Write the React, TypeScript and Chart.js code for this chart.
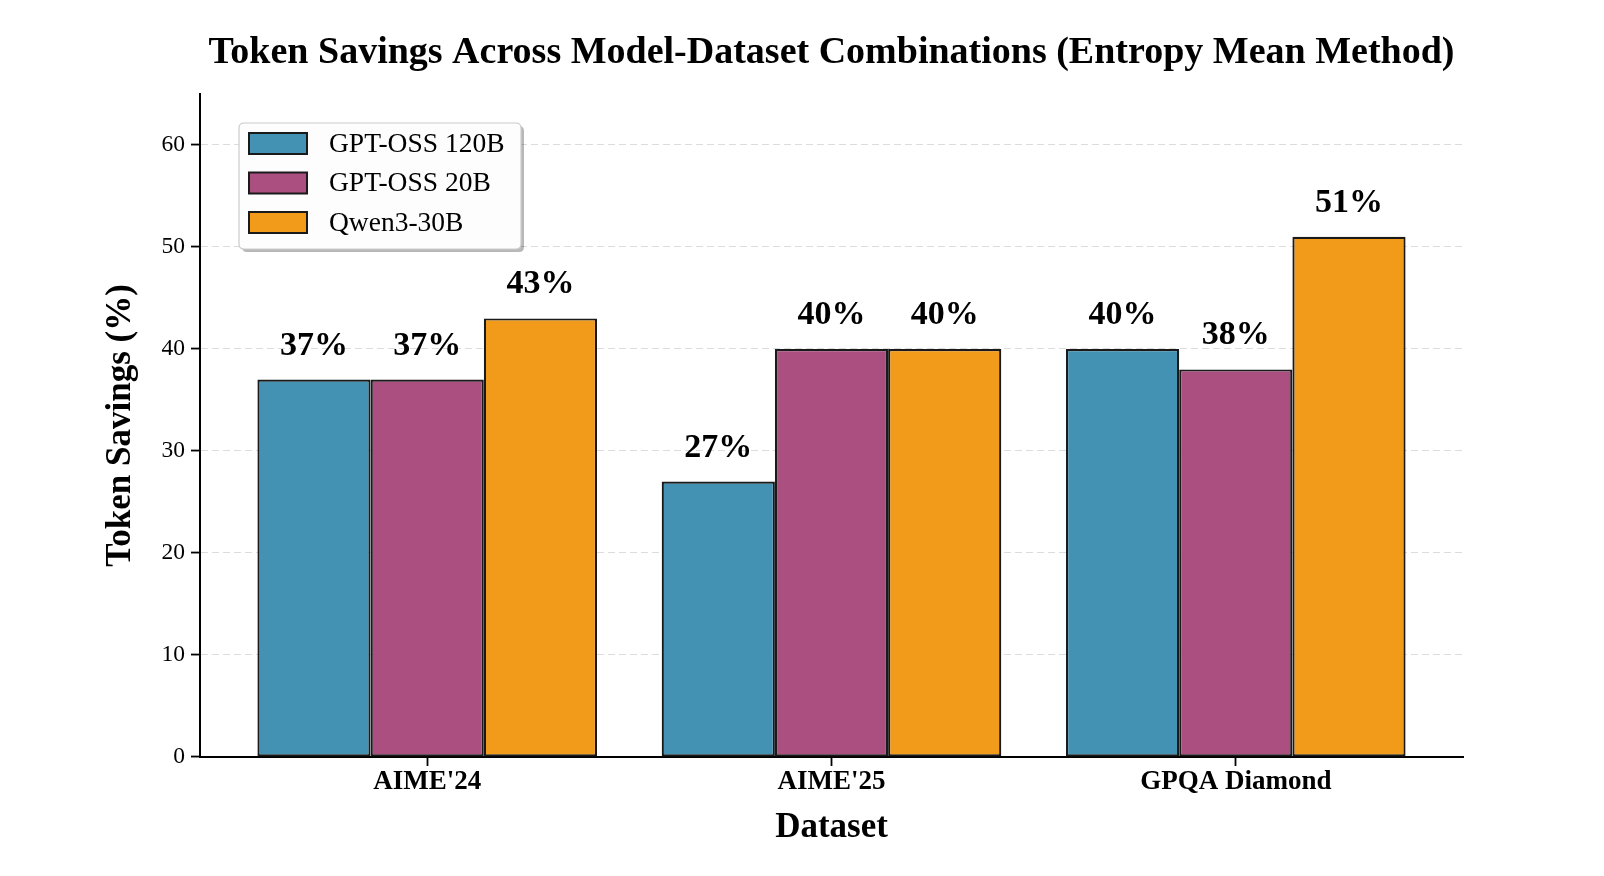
import React, { useEffect, useRef } from 'react';
import { Chart, registerables } from 'chart.js';

Chart.register(...registerables);

const chartTitle = 'Token Savings Across Model-Dataset Combinations (Entropy Mean Method)';
const xAxisTitle = 'Dataset';
const yAxisTitle = 'Token Savings (%)';
const categories = ["AIME'24", "AIME'25", 'GPQA Diamond'];
const seriesNames = ['GPT-OSS 120B', 'GPT-OSS 20B', 'Qwen3-30B'];
const gptOss120b = [37, 27, 40];
const gptOss20b = [37, 40, 38];
const qwen3_30b = [43, 40, 51];
const yTicks = [0, 10, 20, 30, 40, 50, 60];
const seriesColors = ['#4392b3', '#ab4f80', '#f29a1a'];

const FONT = "'Liberation Serif', 'Times New Roman', Times, serif";

function roundRect(ctx: CanvasRenderingContext2D, x: number, y: number, w: number, h: number, r: number) {
  ctx.beginPath();
  ctx.moveTo(x + r, y);
  ctx.lineTo(x + w - r, y);
  ctx.quadraticCurveTo(x + w, y, x + w, y + r);
  ctx.lineTo(x + w, y + h - r);
  ctx.quadraticCurveTo(x + w, y + h, x + w - r, y + h);
  ctx.lineTo(x + r, y + h);
  ctx.quadraticCurveTo(x, y + h, x, y + h - r);
  ctx.lineTo(x, y + r);
  ctx.quadraticCurveTo(x, y, x + r, y);
  ctx.closePath();
}

const titlePlugin = {
  id: 'customTitle',
  afterDraw(chart: any) {
    const { ctx, chartArea } = chart;
    ctx.save();
    ctx.font = `bold 38px ${FONT}`;
    ctx.fillStyle = '#000';
    ctx.textAlign = 'center';
    ctx.textBaseline = 'alphabetic';
    ctx.fillText(chartTitle, (chartArea.left + chartArea.right) / 2, 55);
    ctx.restore();
  },
};

const valueLabelPlugin = {
  id: 'valueLabels',
  afterDatasetsDraw(chart: any) {
    const { ctx } = chart;
    ctx.save();
    ctx.font = `bold 34px ${FONT}`;
    ctx.fillStyle = '#000';
    ctx.textAlign = 'center';
    ctx.textBaseline = 'alphabetic';
    chart.data.datasets.forEach((ds: any, di: number) => {
      const meta = chart.getDatasetMeta(di);
      meta.data.forEach((bar: any, i: number) => {
        const v = ds.data[i].y;
        ctx.fillText(`${v}%`, bar.x, bar.y - 25);
      });
    });
    ctx.restore();
  },
};

const legendPlugin = {
  id: 'customLegend',
  afterDraw(chart: any) {
    const { ctx, chartArea } = chart;
    const x = chartArea.left + 39;
    const y = chartArea.top + 29;
    const w = 282;
    const h = 126;
    ctx.save();
    roundRect(ctx, x + 3, y + 3, w, h, 5);
    ctx.fillStyle = 'rgba(0,0,0,0.28)';
    ctx.fill();
    roundRect(ctx, x, y, w, h, 5);
    ctx.fillStyle = '#fdfdfd';
    ctx.fill();
    ctx.lineWidth = 1.2;
    ctx.strokeStyle = '#cccccc';
    ctx.stroke();
    chart.data.datasets.forEach((ds: any, i: number) => {
      const cy = y + 20.5 + i * 39.5;
      ctx.fillStyle = ds.backgroundColor;
      ctx.fillRect(x + 10, cy - 10.5, 58, 21);
      ctx.lineWidth = 2;
      ctx.strokeStyle = '#1a1a1a';
      ctx.strokeRect(x + 10, cy - 10.5, 58, 21);
      ctx.fillStyle = '#000';
      ctx.font = `27.5px ${FONT}`;
      ctx.textAlign = 'left';
      ctx.textBaseline = 'middle';
      ctx.fillText(ds.label, x + 90, cy + 1);
    });
    ctx.restore();
  },
};

export default function App() {
  const canvasRef = useRef<HTMLCanvasElement | null>(null);

  useEffect(() => {
    if (!canvasRef.current) return;
    const series = [gptOss120b, gptOss20b, qwen3_30b];
    const chart = new Chart(canvasRef.current, {
      type: 'bar',
      data: {
        datasets: series.map((vals, si) => ({
          label: seriesNames[si],
          data: vals.map((v, i) => ({ x: i, y: v })),
          backgroundColor: seriesColors[si],
          borderColor: '#1a1a1a',
          borderWidth: 2.2,
          borderSkipped: false,
          categoryPercentage: 0.84,
          barPercentage: 1.0,
        })),
      },
      options: {
        animation: false,
        responsive: true,
        maintainAspectRatio: false,
        events: [],
        layout: { padding: { top: 86, right: 133, left: 0, bottom: 0 } },
        plugins: {
          legend: { display: false },
          title: { display: false },
          tooltip: { enabled: false },
        },
        scales: {
          x: {
            type: 'linear',
            min: -0.562,
            max: 2.562,
            bounds: 'data',
            offset: false,
            afterBuildTicks: (s: any) => {
              s.ticks = categories.map((_, i) => ({ value: i }));
            },
            afterFit: (s: any) => {
              s.height = 111;
            },
            ticks: {
              callback: (v: any) => categories[v] ?? '',
              font: { family: FONT, size: 27, weight: 'bold', lineHeight: 1 },
              color: '#000',
              padding: 3,
              autoSkip: false,
              maxRotation: 0,
            },
            grid: {
              drawOnChartArea: false,
              drawTicks: true,
              tickLength: 9,
              tickColor: '#000',
              tickWidth: 1.8,
              offset: false,
            },
            border: { display: true, color: '#000', width: 2 },
            title: {
              display: true,
              text: xAxisTitle,
              color: '#000',
              font: { family: FONT, size: 35, weight: 'bold' },
              padding: { top: 0, bottom: 19 },
            },
          },
          y: {
            type: 'linear',
            min: 0,
            max: 65,
            afterBuildTicks: (s: any) => {
              s.ticks = yTicks.map((v) => ({ value: v }));
            },
            afterFit: (s: any) => {
              s.width = 192;
            },
            ticks: {
              font: { family: FONT, size: 23.5 },
              color: '#000',
              padding: 6,
            },
            grid: {
              color: (c: any) => (c.tick && c.tick.value === 0 ? 'rgba(0,0,0,0)' : '#dcdcdc'),
              lineWidth: 1.1,
              drawTicks: true,
              tickLength: 9,
              tickColor: '#000',
              tickWidth: 1.8,
            },
            border: { display: true, color: '#000', width: 2, dash: [7, 4] },
            title: {
              display: true,
              text: yAxisTitle,
              color: '#000',
              font: { family: FONT, size: 35, weight: 'bold' },
              padding: { top: 92, bottom: 0 },
            },
          },
        },
      } as any,
      plugins: [valueLabelPlugin, titlePlugin, legendPlugin],
    });
    return () => chart.destroy();
  }, []);

  return (
    <div style={{ position: 'relative', width: '1588px', height: '860px' }}>
      <canvas ref={canvasRef} />
    </div>
  );
}
